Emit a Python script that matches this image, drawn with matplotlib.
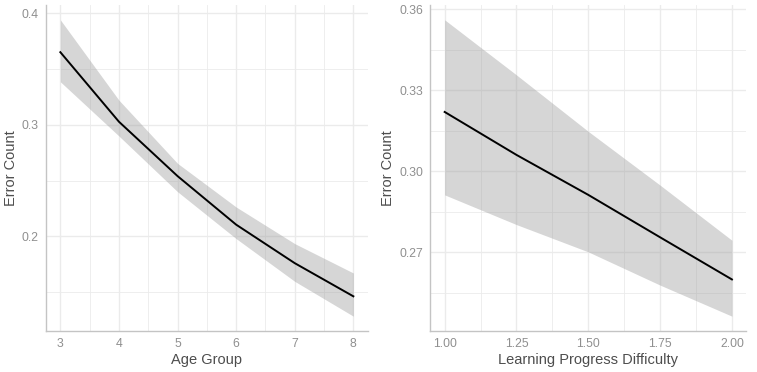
import matplotlib
matplotlib.use("Agg")
import matplotlib.pyplot as plt
from matplotlib.ticker import MultipleLocator, FixedLocator

plt.rcParams['font.family'] = ['Liberation Sans', 'DejaVu Sans']

# Left panel: Age Group
age = [3, 4, 5, 6, 7, 8]
age_fit = [0.365, 0.3027, 0.254, 0.2105, 0.176, 0.1463]
age_upper = [0.394, 0.322, 0.2654, 0.2263, 0.1935, 0.1672]
age_lower = [0.3385, 0.2899, 0.240, 0.198, 0.1597, 0.1285]
age_xticks = [3, 4, 5, 6, 7, 8]
age_yticks = [0.2, 0.3, 0.4]

# Right panel: Learning Progress Difficulty
diff = [1.0, 1.25, 1.5, 1.75, 2.0]
diff_fit = [0.3219, 0.3060, 0.2912, 0.2755, 0.2599]
diff_upper = [0.356, 0.3356, 0.3147, 0.2948, 0.2744]
diff_lower = [0.2912, 0.2802, 0.2701, 0.2578, 0.2463]
diff_xticks = [1.0, 1.25, 1.5, 1.75, 2.0]
diff_xlabels = ["1.00", "1.25", "1.50", "1.75", "2.00"]
diff_yticks = [0.27, 0.30, 0.33, 0.36]
diff_ylabels = ["0.27", "0.30", "0.33", "0.36"]

W, H = 757, 372
fig = plt.figure(figsize=(W / 100, H / 100), dpi=100)

def ax_rect(x0, x1, y0, y1):
    return [x0 / W, 1 - y1 / H, (x1 - x0) / W, (y1 - y0) / H]

ax1 = fig.add_axes(ax_rect(45.7, 368, 5, 331))
ax2 = fig.add_axes(ax_rect(430.3, 746.3, 5, 331))

grid_c = '#ebebeb'
tick_c = '#8f8f8f'
title_c = '#4d4d4d'

def style(ax, x, lo, hi, fit, xlabel):
    ax.fill_between(x, lo, hi, color='#999999', alpha=0.4, linewidth=0, zorder=2)
    ax.plot(x, fit, color='black', linewidth=1.4, zorder=3)
    xr = max(x) - min(x)
    ax.set_xlim(min(x) - 0.05 * xr, max(x) + 0.05 * xr)
    yr = max(hi) - min(lo)
    ax.set_ylim(min(lo) - 0.05 * yr, max(hi) + 0.05 * yr)
    for s in ['top', 'right']:
        ax.spines[s].set_visible(False)
    for s in ['left', 'bottom']:
        ax.spines[s].set_color('#c4c4c4')
        ax.spines[s].set_linewidth(1.0)
    ax.grid(True, which='major', color=grid_c, linewidth=1.0, zorder=0)
    ax.grid(True, which='minor', color=grid_c, linewidth=0.6, zorder=0)
    ax.set_axisbelow(True)
    ax.tick_params(which='both', length=0, colors=tick_c, labelsize=8.8, pad=5)
    ax.set_xlabel(xlabel, fontsize=10.5, color=title_c, labelpad=2)
    ax.set_ylabel('Error Count', fontsize=10.5, color=title_c, labelpad=3)

style(ax1, age, age_lower, age_upper, age_fit, 'Age Group')
ax1.set_xticks(age_xticks)
ax1.xaxis.set_minor_locator(MultipleLocator(0.5))
ax1.set_yticks(age_yticks)
ax1.set_yticklabels([f"{v:.1f}" for v in age_yticks])
ax1.yaxis.set_minor_locator(MultipleLocator(0.05))

style(ax2, diff, diff_lower, diff_upper, diff_fit, 'Learning Progress Difficulty')
ax2.set_xticks(diff_xticks)
ax2.set_xticklabels(diff_xlabels)
ax2.xaxis.set_minor_locator(MultipleLocator(0.125))
ax2.set_yticks(diff_yticks)
ax2.set_yticklabels(diff_ylabels)
ax2.yaxis.set_minor_locator(FixedLocator([0.255, 0.285, 0.315, 0.345]))

fig.savefig('out.png', dpi=100)
